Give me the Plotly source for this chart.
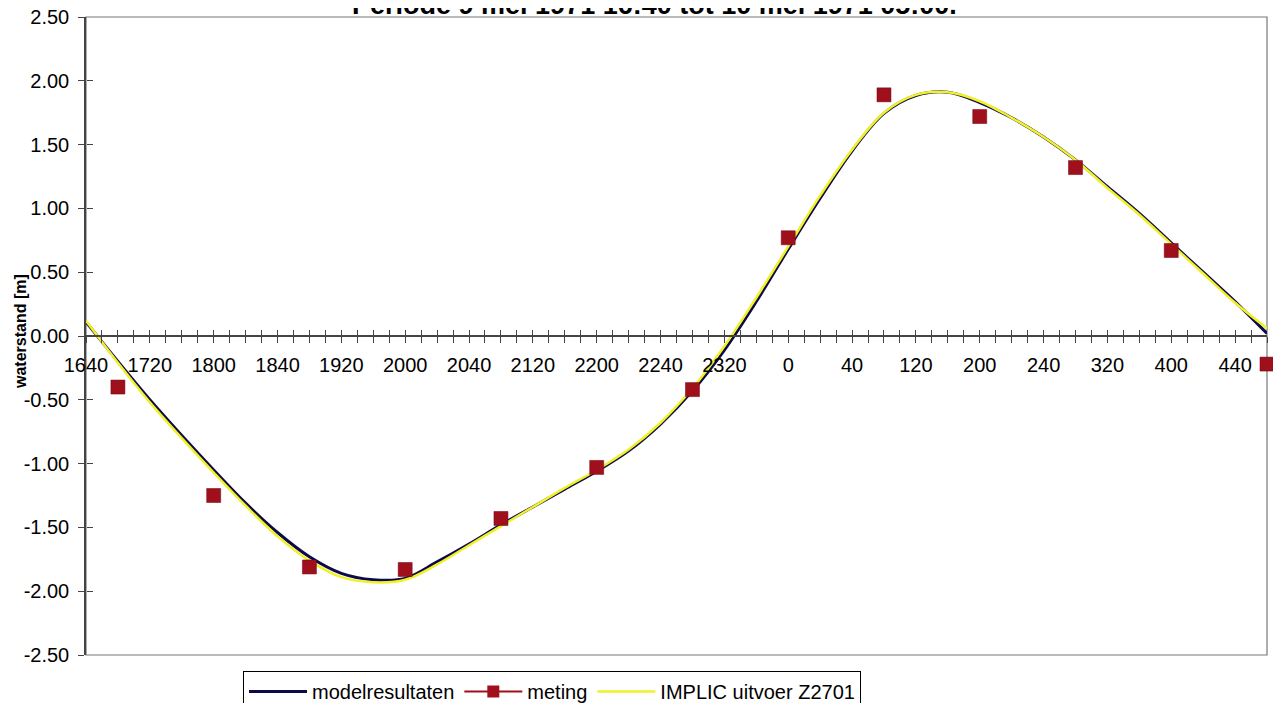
import pandas as pd
import plotly.graph_objects as go

# ---------------- data ----------------
model_times = pd.date_range("1971-05-09 16:40", "1971-05-10 05:00", freq="20min")
model_values = [0.11, -0.20, -0.50, -0.78, -1.05, -1.31, -1.54, -1.73, -1.86, -1.91,
                -1.90, -1.77, -1.63, -1.48, -1.34, -1.20, -1.06, -0.90, -0.69, -0.43,
                -0.11, 0.27, 0.68, 1.08, 1.45, 1.745, 1.885, 1.91, 1.83, 1.71,
                1.56, 1.38, 1.17, 0.96, 0.73, 0.50, 0.27, 0.02]
implic_values = [0.12, -0.21, -0.52, -0.80, -1.07, -1.33, -1.57, -1.76, -1.89, -1.93,
                 -1.91, -1.79, -1.64, -1.49, -1.34, -1.19, -1.05, -0.89, -0.68, -0.41,
                 -0.08, 0.30, 0.70, 1.10, 1.46, 1.75, 1.89, 1.91, 1.84, 1.71,
                 1.56, 1.38, 1.16, 0.95, 0.72, 0.49, 0.26, 0.06]
meting_times = pd.date_range("1971-05-09 17:00", "1971-05-10 05:00", freq="60min")
meting_values = [-0.40, -1.25, -1.81, -1.83, -1.43, -1.03, -0.42, 0.77, 1.89, 1.72,
                 1.32, 0.67, -0.22]

x_tick_times = pd.date_range("1971-05-09 16:40", "1971-05-10 04:40", freq="40min")
x_tick_labels = ["1640", "1720", "1800", "1840", "1920", "2000", "2040", "2120", "2200",
                 "2240", "2320", "0", "40", "120", "200", "240", "320", "400", "440"]
y_ticks = [-2.5, -2.0, -1.5, -1.0, -0.5, 0.0, 0.5, 1.0, 1.5, 2.0, 2.5]
y_tick_labels = ["-2.50", "-2.00", "-1.50", "-1.00", "-0.50", "0.00", "0.50", "1.00",
                 "1.50", "2.00", "2.50"]

title_text = "Periode 9 mei 1971 16:40 tot 10 mei 1971 05:00."
y_title = "waterstand [m]"

x_start = "1971-05-09 16:40"
x_end = "1971-05-10 05:00"

NAVY = "#0b0b4a"
RED = "#a0101c"
YELLOW = "#f2f028"

fig = go.Figure()
fig.add_trace(go.Scatter(x=model_times, y=model_values, mode="lines", name="modelresultaten",
                         line=dict(color=NAVY, width=3, shape="spline", smoothing=1),
                         legendrank=1))
fig.add_trace(go.Scatter(x=model_times, y=implic_values, mode="lines", name="IMPLIC uitvoer Z2701",
                         line=dict(color=YELLOW, width=2.5, shape="spline", smoothing=1),
                         legendrank=3))
fig.add_trace(go.Scatter(x=meting_times, y=meting_values, mode="markers", name="meting",
                         marker=dict(symbol="square", size=14, color=RED,
                                     line=dict(width=0.5, color="#6a0010")),
                         showlegend=False, cliponaxis=False))
# legend entry for meting (line + marker sample)
fig.add_trace(go.Scatter(x=[None], y=[None], mode="lines+markers", name="meting",
                         line=dict(color=RED, width=2),
                         marker=dict(symbol="square", size=12, color=RED),
                         xaxis="x2", yaxis="y2", legendrank=2))

axis_col = "#444444"
# the page body adds an 8 px offset; margins below compensate for it
fig.update_layout(
    width=1281, height=703,
    margin=dict(l=78, r=22, t=9, b=56, autoexpand=False),
    paper_bgcolor="white", plot_bgcolor="white",
    font=dict(family="Liberation Sans, Arial, sans-serif", size=20, color="black"),
    xaxis=dict(type="date", range=[x_start, x_end], domain=[0, 1],
               anchor="free", position=0.5, automargin=False,
               tickmode="array", tickvals=x_tick_times, ticktext=x_tick_labels,
               ticks="outside", ticklen=6, tickwidth=1.2, tickcolor=axis_col,
               minor=dict(ticks="outside", tickmode="linear", tick0=x_start, dtick=600000,
                          ticklen=6, tickwidth=1.2, tickcolor=axis_col),
               showline=True, linecolor=axis_col, linewidth=1.5,
               showgrid=False, zeroline=False, ticklabelstandoff=5,
               ticklabeloverflow="allow"),
    xaxis2=dict(type="date", range=[x_start, x_end], overlaying="x",
                anchor="free", position=0.5, automargin=False,
                tickmode="linear", tick0=x_start, dtick=600000,
                ticks="inside", ticklen=6, tickwidth=1.2, tickcolor=axis_col,
                showticklabels=False, showline=False, showgrid=False, zeroline=False),
    yaxis=dict(range=[-2.5, 2.5], domain=[0, 1], anchor="x", automargin=False,
               tickmode="array", tickvals=y_ticks, ticktext=y_tick_labels,
               ticks="outside", ticklen=6, tickwidth=1.2, tickcolor=axis_col,
               showline=True, linecolor=axis_col, linewidth=1.5,
               showgrid=False, zeroline=False, ticklabelstandoff=5,
               ticklabeloverflow="allow"),
    yaxis2=dict(range=[-2.5, 2.5], overlaying="y", anchor="free", position=0, side="left",
                automargin=False, tickmode="array", tickvals=y_ticks,
                ticks="inside", ticklen=6, tickwidth=1.2, tickcolor=axis_col,
                showticklabels=False, showline=False, showgrid=False, zeroline=False),
    legend=dict(orientation="h", xref="container", x=235 / 1281, xanchor="left",
                yref="container", y=1 - 663 / 703, yanchor="top",
                bordercolor="black", borderwidth=1, bgcolor="white",
                font=dict(size=20), itemwidth=58, traceorder="normal"),
    showlegend=True,
    shapes=[dict(type="rect", xref="paper", yref="paper", x0=0, x1=1, y0=0, y1=1,
                 line=dict(color="#777777", width=1.2), layer="below")],
    annotations=[
        dict(text="<b>" + title_text + "</b>", xref="paper", yref="paper",
             x=(654.5 - 86) / 1181, y=0.992, xanchor="center", yanchor="bottom",
             showarrow=False, font=dict(size=27)),
        dict(text="<b>" + y_title + "</b>", xref="paper", yref="paper",
             x=-66 / 1181, y=(655 - 332) / 638, xanchor="center", yanchor="middle",
             textangle=-90, showarrow=False, font=dict(size=16)),
    ],
)

fig.write_html("out.html")
